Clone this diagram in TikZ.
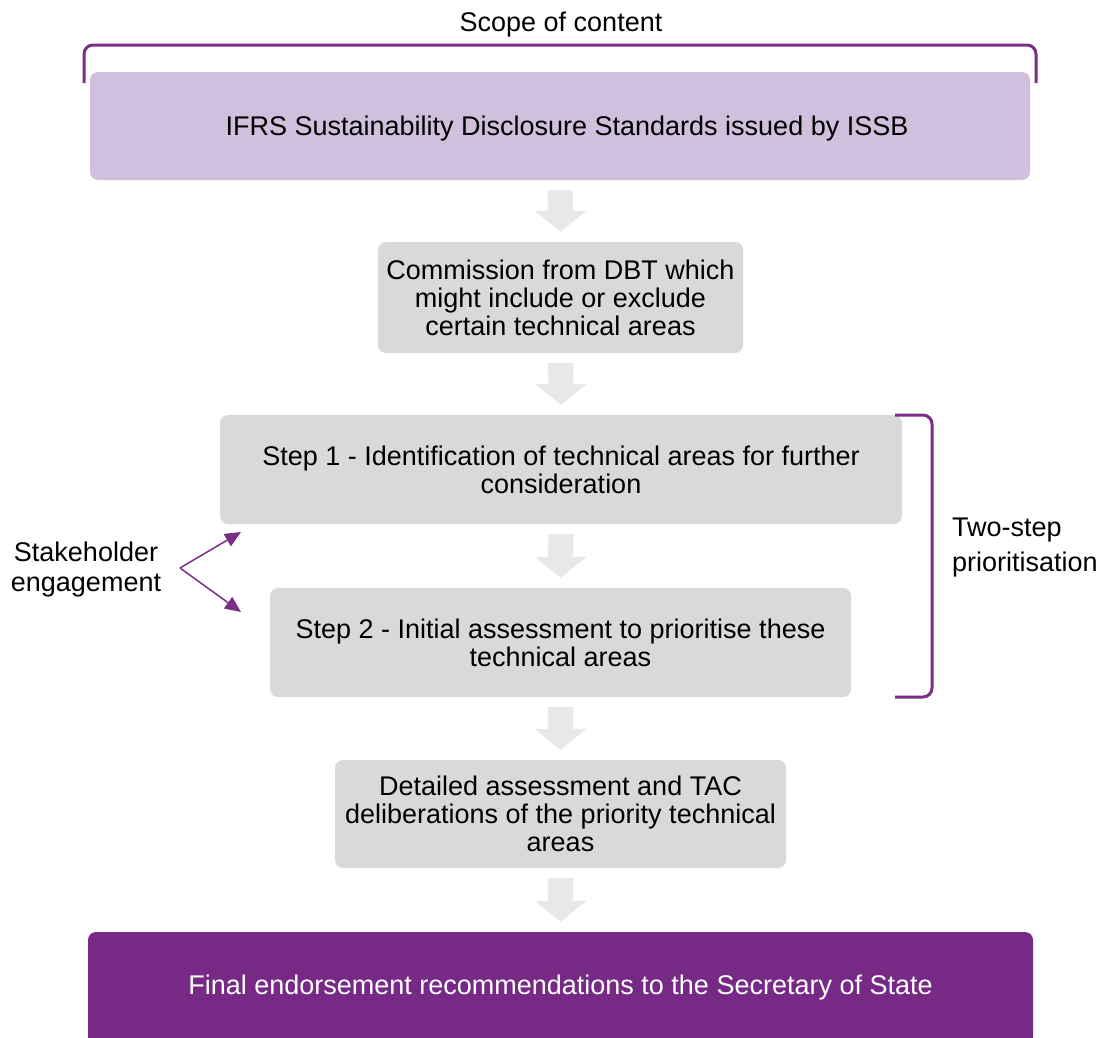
\documentclass[tikz,border=0pt]{standalone}
\usepackage{fontspec}
\setmainfont{Liberation Sans}
\usetikzlibrary{calc,arrows.meta}
\definecolor{lav}{HTML}{D0BFDD}
\definecolor{boxgrey}{HTML}{D9D9D9}
\definecolor{arrowgrey}{HTML}{E8E8E8}
\definecolor{brpurple}{HTML}{7B2D87}
\definecolor{finpurple}{HTML}{762A85}
\newcommand{\garrow}[2]{%
  \fill[arrowgrey] ($(#1.south)+(-12.5,10)$) -- ($(#1.south)+(12.5,10)$) --
    ($(#2.north)+(12.5,-31)$) -- ($(#2.north)+(26,-31)$) -- ($(#2.north)+(0,-10)$) --
    ($(#2.north)+(-26,-31)$) -- ($(#2.north)+(-12.5,-31)$) -- cycle;}
\begin{document}
\begin{tikzpicture}[x=1pt,y=-1pt,
  box/.style={rounded corners=8pt, inner sep=0pt, align=center,
    font=\fontsize{27}{28}\selectfont},
  greybox/.style={box, fill=boxgrey},
  lbl/.style={inner sep=0pt, font=\fontsize{27}{30}\selectfont},
  bracket/.style={draw=brpurple, line width=3pt, rounded corners=9pt},
  sharrow/.style={draw=brpurple, line width=1.5pt, -{Triangle[length=16pt,width=14pt]}}]
\useasboundingbox (0,0) rectangle (1103,1037);

\node[lbl] (scope) at (561,25) {Scope of content};
\draw[bracket] (84,83) -- (84,45) -- (1036,45) -- (1036,83);

\node[box, fill=lav, minimum width=940pt, minimum height=108pt] (top) at (560,126) {};
\node[box] (toptext) at (567,129) {IFRS Sustainability Disclosure Standards issued by ISSB};

\node[greybox, minimum width=365pt, minimum height=111pt] (comm) at (560.5,297.5)
  {Commission from DBT which\\might include or exclude\\certain technical areas};

\node[greybox, minimum width=682pt, minimum height=109pt] (s1) at (561,469.5)
  {Step 1 - Identification of technical areas for further\\consideration};

\node[greybox, minimum width=581pt, minimum height=109pt] (s2) at (560.5,642.5)
  {Step 2 - Initial assessment to prioritise these\\technical areas};

\node[greybox, minimum width=451pt, minimum height=108pt] (det) at (560.5,814)
  {Detailed assessment and TAC\\deliberations of the priority technical\\areas};

\node[box, fill=finpurple, text=white, minimum width=945pt, minimum height=112pt] (fin) at (560.5,988)
  {Final endorsement recommendations to the Secretary of State};
\fill[finpurple] ($(fin.south west)+(0,-20)$) rectangle ($(fin.south east)+(0,10)$);

\garrow{top}{comm}
\garrow{comm}{s1}
\garrow{s1}{s2}
\garrow{s2}{det}
\garrow{det}{fin}

\node[lbl, align=center] (sh) at (86,570) {Stakeholder\\engagement};
\coordinate (shv) at (180,568);
\coordinate (sh1) at (241,532);
\coordinate (sh2) at (241,612);
\draw[sharrow] (shv) -- (sh1);
\draw[sharrow] (shv) -- (sh2);

\draw[bracket] (895,415) -- (932,415) -- (932,697) -- (895,697);
\node[lbl, font=\fontsize{27}{35}\selectfont, align=left, anchor=west] (two) at (952,548)
  {Two-step\\prioritisation};
\end{tikzpicture}
\end{document}
